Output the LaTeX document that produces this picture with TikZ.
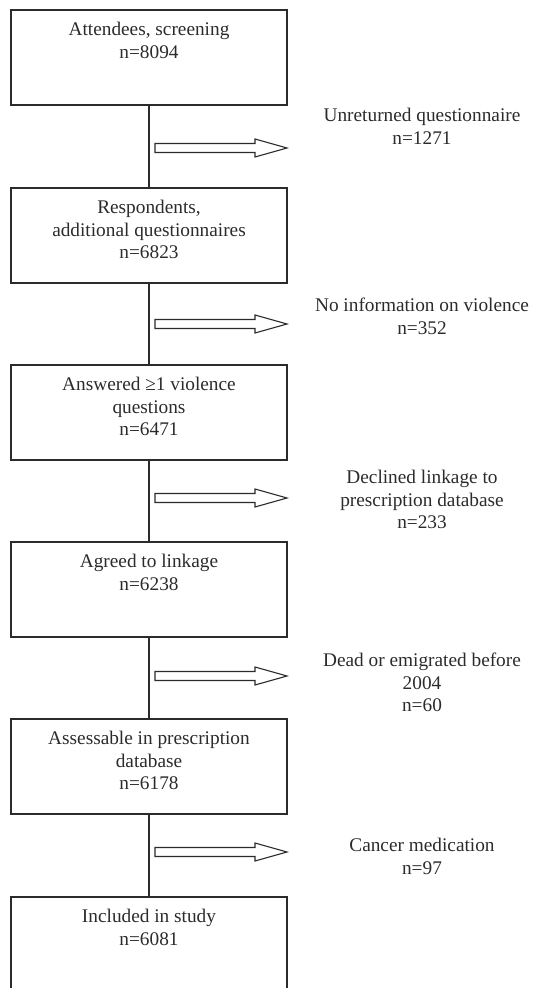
\documentclass[tikz,border=0pt]{standalone}
\usepackage{fontspec}
\setmainfont{Liberation Serif}
\usepackage{xcolor}
\usepackage{tikz}
\usetikzlibrary{calc,positioning}
\definecolor{ink}{HTML}{2B2B2B}
\tikzset{
  line/.style={draw=ink, line width=0.55pt},
  box/.style={draw=ink, line width=0.6pt, rectangle, minimum width=138pt, minimum height=47.5pt, inner sep=0pt, outer sep=0pt},
  txt/.style={text=ink, align=center, inner sep=0pt, font=\fontsize{9.65}{11.25}\selectfont},
  lbl/.style={txt, anchor=north},
  blockarrow/.style={draw=ink, line width=0.55pt, fill=white, line join=miter}
}
\begin{document}
\begin{tikzpicture}[x=0.5pt, y=-0.5pt]
  \useasboundingbox (0,0) rectangle (532,988);

  \node[box] (att) at (149,57.5) {};
  \node[box] (resp) at (149,235.5) {};
  \node[box] (answ) at (149,412.5) {};
  \node[box] (agree) at (149,589.5) {};
  \node[box] (assess) at (149,766.5) {};
  \node[box] (incl) at (149,944.5) {};

  \node[txt, below=6pt of att.north] (atttxt) {Attendees, screening\\n=8094};
  \node[txt, below=6pt of resp.north] (resptxt) {Respondents,\\additional questionnaires\\n=6823};
  \node[txt, below=6pt of answ.north] (answtxt) {Answered ≥1 violence\\questions\\n=6471};
  \node[txt, below=6pt of agree.north] (agreetxt) {Agreed to linkage\\n=6238};
  \node[txt, below=6pt of assess.north] (assesstxt) {Assessable in prescription\\database\\n=6178};
  \node[txt, below=6pt of incl.north] (incltxt) {Included in study\\n=6081};

  \draw[line] (att.south) -- (resp.north);
  \draw[line] (resp.south) -- (answ.north);
  \draw[line] (answ.south) -- (agree.north);
  \draw[line] (agree.south) -- (assess.north);
  \draw[line] (assess.south) -- (incl.north);

  \coordinate (a1) at (155,143.5);
  \coordinate (a2) at (155,319.5);
  \coordinate (a3) at (155,493.5);
  \coordinate (a4) at (155,671.5);
  \coordinate (a5) at (155,847.5);
  \draw[blockarrow] (a1) -- ++(100,0) -- ++(0,-4.5) -- ++(32,9) -- ++(-32,9) -- ++(0,-4.5) -- ++(-100,0) -- cycle;
  \draw[blockarrow] (a2) -- ++(100,0) -- ++(0,-4.5) -- ++(32,9) -- ++(-32,9) -- ++(0,-4.5) -- ++(-100,0) -- cycle;
  \draw[blockarrow] (a3) -- ++(100,0) -- ++(0,-4.5) -- ++(32,9) -- ++(-32,9) -- ++(0,-4.5) -- ++(-100,0) -- cycle;
  \draw[blockarrow] (a4) -- ++(100,0) -- ++(0,-4.5) -- ++(32,9) -- ++(-32,9) -- ++(0,-4.5) -- ++(-100,0) -- cycle;
  \draw[blockarrow] (a5) -- ++(100,0) -- ++(0,-4.5) -- ++(32,9) -- ++(-32,9) -- ++(0,-4.5) -- ++(-100,0) -- cycle;

  \node[lbl] (unret) at (422,108) {Unreturned questionnaire\\n=1271};
  \node[lbl] (noinfo) at (422,298) {No information on violence\\n=352};
  \node[lbl] (declined) at (422,470) {Declined linkage to\\prescription database\\n=233};
  \node[lbl] (dead) at (422,653) {Dead or emigrated before\\2004\\n=60};
  \node[lbl] (cancer) at (422,838) {Cancer medication\\n=97};
\end{tikzpicture}
\end{document}
